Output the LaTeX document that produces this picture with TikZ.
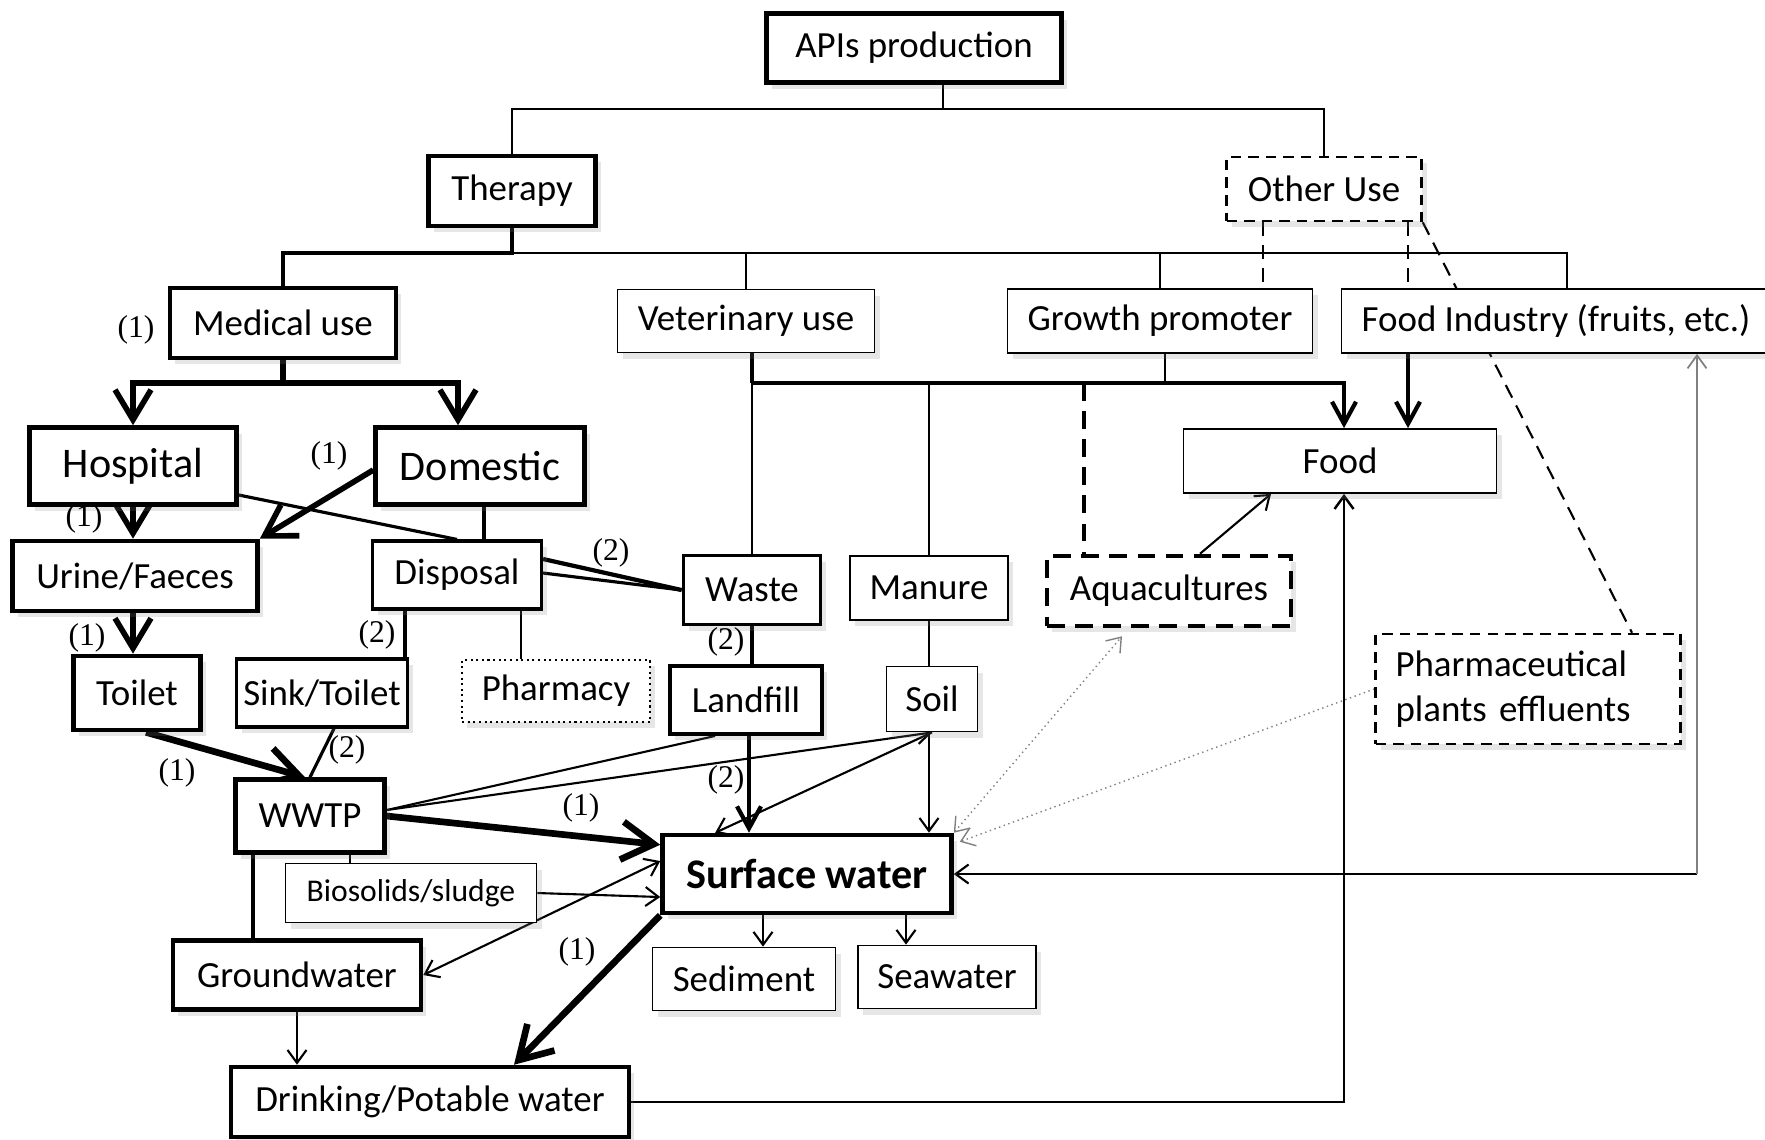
\documentclass[tikz,border=0pt]{standalone}
\usepackage{fontspec}
\setmainfont{Carlito}
\newfontfamily\numfont{Liberation Serif}
\usetikzlibrary{arrows.meta, positioning, backgrounds, shadows}

\begin{document}
\begin{tikzpicture}[
    box/.style = {
      rectangle, draw=black, fill=white, inner sep=0pt,
      font=\fontsize{10.5}{12.8}\selectfont,
      drop shadow={shadow xshift=0.5mm, shadow yshift=-0.6mm, opacity=0.2}
    },
    boldbox/.style  = {box, line width=1.3pt},
    midbox/.style   = {box, line width=0.9pt},
    plainbox/.style = {box, line width=0.5pt},
    dashbox/.style  = {box, line width=0.7pt, dash pattern=on 3pt off 2pt},
    heavydashbox/.style = {box, line width=1.3pt, dash pattern=on 5pt off 3pt},
    dotbox/.style   = {box, line width=0.6pt, densely dotted},
    wh/.style 2 args = {minimum width=#1cm, minimum height=#2cm},
    big/.style      = {font=\fontsize{12}{14}\selectfont},
    conn/.style      = {line width=0.6pt},
    midconn/.style   = {line width=0.9pt},
    thickconn/.style = {line width=1.2pt},
    heavyconn/.style = {line width=1.6pt},
    dconn/.style     = {line width=0.6pt, dash pattern=on 4pt off 2.5pt},
    arrow/.style     = {conn, -{Straight Barb[length=1.3mm,width=1.9mm]}},
    darrow/.style    = {conn, {Straight Barb[length=1.3mm,width=1.9mm]}-{Straight Barb[length=1.3mm,width=1.9mm]}},
    medarrow/.style  = {thickconn, -{Straight Barb[length=2.2mm,width=2.4mm]}},
    heavyarrow/.style = {heavyconn, -{Straight Barb[length=3mm,width=3.6mm]}},
    hugearrow/.style = {line width=1.9pt, -{Straight Barb[length=3.2mm,width=3.8mm]}},
    dotarrow/.style  = {line width=0.4pt, gray, densely dotted, -{Straight Barb[length=1.3mm,width=1.9mm]}},
    lbl/.style       = {font=\numfont\fontsize{9}{10}\selectfont, inner sep=0pt}
  ]
  \useasboundingbox (0,0) rectangle (17.65,-11.39);

  % Row 1 -- production and uses
  \node[boldbox, wh={2.95}{0.69}]  at (9.14,-0.48)  (apis)     {APIs production};
  \node[boldbox, wh={1.67}{0.70}]  at (5.12,-1.91)  (therapy)  {Therapy};
  \node[dashbox, wh={1.95}{0.64}]  at (13.24,-1.89) (other)    {Other Use};

  % Row 2 -- kinds of use
  \node[boldbox, wh={2.26}{0.70}]  at (2.83,-3.23)  (medical)  {Medical use};
  \node[plainbox, wh={2.57}{0.63}] at (7.46,-3.21)  (vet)      {Veterinary use};
  \node[plainbox, wh={3.05}{0.64}] at (11.60,-3.21) (growth)   {Growth promoter};
  \node[plainbox, wh={4.29}{0.64}] at (15.56,-3.21) (foodind)  {Food Industry (fruits, etc.)};

  % Row 3
  \node[boldbox, big, wh={2.07}{0.77}] at (1.33,-4.66) (hospital) {Hospital};
  \node[boldbox, big, wh={2.09}{0.77}] at (4.80,-4.66) (domestic) {Domestic};
  \node[plainbox, wh={3.13}{0.64}] at (13.40,-4.61) (food)     {Food};

  % Row 4
  \node[boldbox, wh={2.45}{0.70}]  at (1.35,-5.76)  (urine)    {Urine/Faeces};
  \node[midbox, wh={1.69}{0.68}]   at (4.57,-5.75)  (disposal) {Disposal};
  \node[box, line width=1.1pt, wh={1.37}{0.69}] at (7.52,-5.90) (waste) {Waste};
  \node[plainbox, wh={1.58}{0.64}] at (9.29,-5.88)  (manure)   {Manure};
  \node[heavydashbox, wh={2.44}{0.70}] at (11.69,-5.91) (aqua) {Aquacultures};

  % Row 5
  \node[boldbox, wh={1.27}{0.74}]  at (1.37,-6.93)  (toilet)   {Toilet};
  \node[midbox, wh={1.71}{0.68}]   at (3.22,-6.93)  (sink)     {Sink/Toilet};
  \node[dotbox, wh={1.88}{0.62}]   at (5.56,-6.91)  (pharmacy) {Pharmacy};
  \node[box, line width=1.1pt, wh={1.52}{0.68}] at (7.46,-7.00) (landfill) {Landfill};
  \node[plainbox, wh={0.91}{0.65}] at (9.32,-6.99)  (soil)     {Soil};
  \node[dashbox, wh={3.05}{1.10}, text width=2.65cm, align=left]
                                   at (15.28,-6.89) (plants)   {Pharmaceutical\\plants effluents};

  % Row 6 -- water
  \node[boldbox, wh={1.49}{0.73}]  at (3.10,-8.16)  (wwtp)     {WWTP};
  \node[boldbox, wh={2.89}{0.78}, font=\fontsize{12}{14}\selectfont\bfseries]
                                   at (8.07,-8.74)  (surface)  {Surface water};
  \node[plainbox, wh={2.51}{0.59}, font=\fontsize{9}{11}\selectfont]
                                   at (4.11,-8.93)  (bio)      {Biosolids/sludge};
  \node[boldbox, wh={2.48}{0.69}]  at (2.97,-9.75)  (ground)   {Groundwater};
  \node[plainbox, wh={1.83}{0.63}] at (7.44,-9.79)  (sediment) {Sediment};
  \node[plainbox, wh={1.78}{0.63}] at (9.47,-9.77)  (seawater) {Seawater};
  \node[boldbox, wh={3.98}{0.70}]  at (4.30,-11.02) (drinking) {Drinking/Potable water};

  % Route labels
  \node[lbl] at (1.36,-3.30) (lmed)   {(1)};
  \node[lbl] at (3.29,-4.56) (ldom)   {(1)};
  \node[lbl] at (0.84,-5.19) (lhos)   {(1)};
  \node[lbl] at (0.87,-6.38) (luri)   {(1)};
  \node[lbl] at (1.77,-7.73) (ltoi)   {(1)};
  \node[lbl] at (5.81,-8.08) (lwwtp)  {(1)};
  \node[lbl] at (5.77,-9.52) (lsurf)  {(1)};
  \node[lbl] at (6.11,-5.53) (ldisp)  {(2)};
  \node[lbl] at (3.77,-6.35) (lsink)  {(2)};
  \node[lbl] at (3.47,-7.50) (lsinkw) {(2)};
  \node[lbl] at (7.26,-6.42) (lwaste) {(2)};
  \node[lbl] at (7.26,-7.80) (lland)  {(2)};

  % Junctions
  \coordinate (apidrop) at (9.43,-1.09);
  \coordinate (bus2)    at (15.67,-2.53);
  \coordinate (bus3)    at (0,-3.83);
  \coordinate (gpdash)  at (12.63,0);
  \coordinate (fidrop)  at (14.08,0);
  \coordinate (gpdrop)  at (11.65,0);
  \coordinate (aqdrop)  at (10.84,0);
  \coordinate (domdrop) at (4.84,0);
  \coordinate (sinkdrop) at (4.05,0);
  \coordinate (phdrop)  at (5.21,0);
  \coordinate (grdrop)  at (2.53,0);
  \coordinate (biodrop) at (3.50,0);
  \coordinate (seddrop) at (7.63,0);
  \coordinate (seadrop) at (9.06,0);
  \coordinate (lfdrop)  at (7.49,0);
  \coordinate (ficorner) at (16.97,-8.74);

  \begin{scope}[on background layer]
    % Tree
    \draw[conn] (apis.south -| apidrop) -- (apidrop);
    \draw[conn] (therapy.north) |- (apidrop) -| (other.north);
    \draw[thickconn] (therapy.south) -- (therapy.south |- bus2) -| (medical.north);
    \draw[conn] (therapy.south |- bus2) -- (bus2) -- (bus2 |- foodind.north);
    \draw[conn] (vet.north) -- (vet.north |- bus2);
    \draw[conn] (growth.north) -- (growth.north |- bus2);
    \draw[dconn] (gpdash |- other.south) -- (gpdash |- growth.north);
    \draw[dconn] (fidrop |- other.south) -- (fidrop |- foodind.north);
    \draw[dconn] (other.south east) -- ([xshift=1.04cm]plants.north);
    \draw[medarrow] (fidrop |- foodind.south) -- (fidrop |- food.north);

    % Medical use
    \draw[heavyconn] (medical.south) -- (medical.south |- bus3);
    \draw[heavyarrow] (medical.south |- bus3) -| (hospital.north);
    \draw[heavyarrow] (medical.south |- bus3) -| ([xshift=-0.22cm]domestic.north);
    \draw[heavyarrow] (hospital.south) -- (hospital.south |- urine.north);
    \draw[heavyarrow] ([yshift=-0.04cm]domestic.west) -- (urine.north east);
    \draw[midconn] ([yshift=-0.29cm]hospital.east) -- (disposal.north);
    \draw[midconn] (domdrop |- domestic.south) -- (domdrop |- disposal.north);

    % Veterinary use and growth promoter
    \draw[thickconn] (waste.north |- vet.south) -- (waste.north |- bus3);
    \draw[conn] (waste.north |- bus3) -- (waste.north);
    \draw[medarrow] (waste.north |- bus3) -| ([xshift=0.04cm]food.north);
    \draw[conn] (manure.north |- bus3) -- (manure.north);
    \draw[conn] (gpdrop |- growth.south) -- (gpdrop |- bus3);
    \draw[line width=1.3pt, dash pattern=on 5pt off 3pt] (aqdrop |- bus3) -- (aqdrop |- aqua.north);
    \draw[arrow] ([xshift=0.31cm]aqua.north) -- ([xshift=-0.69cm]food.south);

    % Disposal
    \draw[thickconn] ([yshift=0.16cm]disposal.east) -- (waste.west);
    \draw[midconn] ([yshift=0.02cm]disposal.east) -- (waste.west);
    \draw[thickconn] (sinkdrop |- disposal.south) -- (sinkdrop |- sink.north);
    \draw[conn] (phdrop |- disposal.south) -- (phdrop |- pharmacy.north);
    \draw[thickconn] (waste.south) -- (waste.south |- landfill.north);

    % Toilet and WWTP
    \draw[heavyarrow] (hospital.south |- urine.south) -- (hospital.south |- toilet.north);
    \draw[hugearrow] ([xshift=0.09cm]toilet.south) -- ([xshift=-0.05cm]wwtp.north);
    \draw[midconn] ([xshift=0.12cm]sink.south) -- (wwtp.north);
    \draw[conn] ([yshift=0.06cm]wwtp.east) -- ([xshift=0.47cm]landfill.south west);
    \draw[arrow] ([yshift=0.06cm]wwtp.east) -- (soil.south);
    \draw[hugearrow] (wwtp.east) -- ([yshift=-0.12cm]surface.north west);
    \draw[thickconn] (grdrop |- wwtp.south) -- (grdrop |- ground.north);
    \draw[conn] (biodrop |- wwtp.south) -- (biodrop |- bio.north);
    \draw[arrow] (bio.east) -- ([yshift=-0.23cm]surface.west);
    \draw[darrow] (ground.east) -- ([yshift=0.13cm]surface.west);
    \draw[arrow] (ground.south) -- (ground.south |- drinking.north);
    \draw[hugearrow] (surface.south west) -- ([xshift=0.84cm]drinking.north);

    % Landfill, manure and soil
    \draw[medarrow] (lfdrop |- landfill.south) -- (lfdrop |- surface.north);
    \draw[conn] (manure.south) -- (manure.south |- soil.north);
    \draw[arrow] (manure.south |- soil.south) -- (manure.south |- surface.north);
    \draw[arrow] (soil.south) -- ([xshift=0.55cm]surface.north west);

    % Surface water outputs
    \draw[arrow] (seddrop |- surface.south) -- (seddrop |- sediment.north);
    \draw[arrow] (seadrop |- surface.south) -- (seadrop |- seawater.north);
    \draw[dotarrow, {Straight Barb[length=1.3mm,width=1.9mm]}-{Straight Barb[length=1.3mm,width=1.9mm]}]
      (surface.north east) -- ([xshift=-0.47cm,yshift=-0.08cm]aqua.south);
    \draw[dotarrow] (plants.west) -- ([xshift=0.06cm,yshift=-0.09cm]surface.north east);

    % Back to food
    \draw[arrow, line width=0.7pt] (drinking.east) -| ([xshift=0.04cm]food.south);
    \draw[arrow] (ficorner) -- (surface.east);
    \draw[arrow, draw=gray, line width=0.5pt] (ficorner) -- (ficorner |- foodind.south);
  \end{scope}
\end{tikzpicture}
\end{document}
